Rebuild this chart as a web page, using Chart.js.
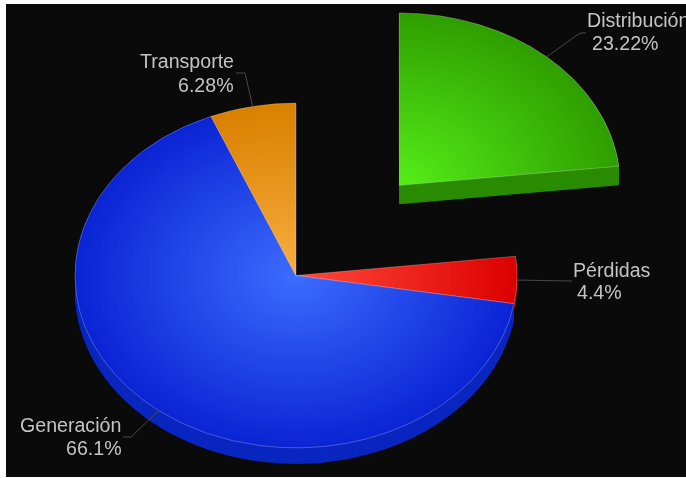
<!DOCTYPE html>
<html>
<head>
<meta charset="utf-8">
<title>Pérdidas</title>
<script src="https://cdn.jsdelivr.net/npm/chart.js@4"></script>
<style>
    html, body { margin: 0; padding: 0; background: #fff; overflow: hidden; }
    #fondo { position: absolute; left: 6px; top: 4px; right: 0; bottom: 1px; background: #0a0a0a; }
    #grafico { position: absolute; left: 0; top: 0; }
</style>
</head>
<body>
<div id="fondo"></div>
<canvas id="grafico" width="686" height="478"></canvas>
<script>
//DATOS//
const categorias = ["Distribución", "Pérdidas", "Generación", "Transporte"]
const valores = [23.22, 4.4, 66.1, 6.28]

//COLORES: centro, borde, lateral//
const coloresCentro = ["#55ee18", "#ff4a3a", "#3c6cff", "#f8ae40"]
const coloresBorde = ["#2f9e00", "#dc0000", "#0a24d4", "#d98000"]
const coloresLado = ["#2a8c00", "#b00000", "#0a26c0", "#a86000"]

//AJUSTES DEL PASTEL 3D//
const centroY = 275.5
const aplastado = 0.78
const profundidad = [19, 6, 16, 16]
const separado = [155, 0, 0, 0]

//ETIQUETAS: [x, linea base] de cada linea, codo y final del conector//
const posNombre = [[587, 27], [573, 277], [20, 432], [140, 68]]
const posValor = [[592, 50], [577, 299], [66, 455], [178, 92]]
const codos = [[580, 33], [572, 281], [131, 437], [245, 73]]
const finales = [[586, 33], [572, 281], [123, 437], [236, 73]]

//DEGRADADO RADIAL DE CADA PORCION//
function degradado(context) {
    const chart = context.chart
    const area = chart.chartArea
    const i = context.dataIndex
    if (!area) return coloresBorde[i]
    const arco = chart.getDatasetMeta(0).data[i]
    const cx = (area.left + area.right) / 2
    const cy = (area.top + area.bottom) / 2
    const g = chart.ctx.createRadialGradient(cx, cy, 0, cx, cy, arco.outerRadius || 221)
    g.addColorStop(0, coloresCentro[i])
    g.addColorStop(1, coloresBorde[i])
    return g
}

//DESPLAZAMIENTO DE LA PORCION SEPARADA//
function desplazamiento(arco, i) {
    const medio = (arco.startAngle + arco.endAngle) / 2
    return [Math.cos(medio) * separado[i], Math.sin(medio) * separado[i]]
}

//PLUGIN: DIBUJA LATERALES, CARAS Y ETIQUETAS//
const pastel3d = {
    id: "pastel3d",
    beforeDatasetDraw(chart) {
        const ctx = chart.ctx
        const arcos = chart.getDatasetMeta(0).data

        ctx.save()
        ctx.translate(0, centroY)
        ctx.scale(1, aplastado)
        ctx.translate(0, -arcos[0].y)

        //laterales
        arcos.forEach((arco, i) => {
            const [dx, dy] = desplazamiento(arco, i)
            ctx.fillStyle = coloresLado[i]
            for (let d = profundidad[i]; d > 0; d--) {
                ctx.beginPath()
                ctx.moveTo(arco.x + dx, arco.y + dy + d / aplastado)
                ctx.arc(arco.x + dx, arco.y + dy + d / aplastado, arco.outerRadius, arco.startAngle, arco.endAngle)
                ctx.closePath()
                ctx.fill()
            }
        })

        //caras superiores
        arcos.forEach((arco, i) => {
            const [dx, dy] = desplazamiento(arco, i)
            ctx.save()
            ctx.translate(dx, dy)
            arco.draw(ctx)
            ctx.restore()
        })
        ctx.restore()

        //conectores
        ctx.strokeStyle = "#484848"
        ctx.lineWidth = 1
        arcos.forEach((arco, i) => {
            const [dx, dy] = desplazamiento(arco, i)
            const medio = (arco.startAngle + arco.endAngle) / 2
            const x = arco.x + dx + Math.cos(medio) * arco.outerRadius
            const y = centroY + (dy + Math.sin(medio) * arco.outerRadius) * aplastado
            ctx.beginPath()
            ctx.moveTo(x, y)
            ctx.lineTo(codos[i][0], codos[i][1])
            ctx.lineTo(finales[i][0], finales[i][1])
            ctx.stroke()
        })

        //etiquetas
        ctx.fillStyle = "#c4c4c4"
        ctx.font = "19.6px 'Liberation Sans', Arial, sans-serif"
        ctx.textAlign = "left"
        ctx.textBaseline = "alphabetic"
        categorias.forEach((nombre, i) => {
            ctx.fillText(nombre, posNombre[i][0], posNombre[i][1])
            ctx.fillText(valores[i] + "%", posValor[i][0], posValor[i][1])
        })
        return false
    }
}

//CREACION DEL GRAFICO//
new Chart(document.getElementById("grafico"), {
    type: "pie",
    data: {
        labels: categorias,
        datasets: [{
            data: valores,
            backgroundColor: degradado,
            borderColor: "rgba(255,255,255,0.28)",
            borderWidth: 1,
            borderJoinStyle: "round",
            radius: 221
        }]
    },
    options: {
        responsive: false,
        animation: false,
        layout: { padding: { right: 94 } },
        plugins: {
            legend: { display: false },
            tooltip: { enabled: false }
        }
    },
    plugins: [pastel3d]
})
</script>
</body>
</html>
